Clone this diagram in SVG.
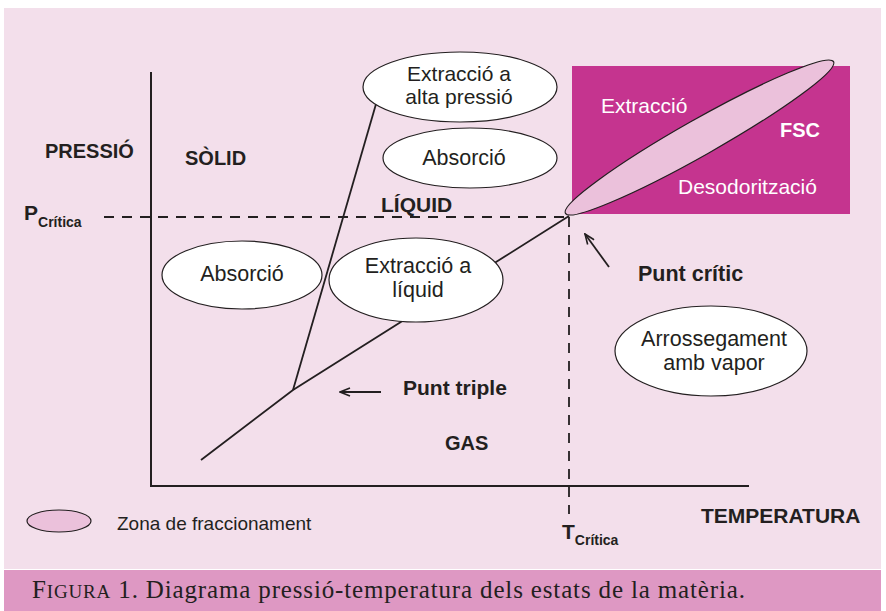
<svg xmlns="http://www.w3.org/2000/svg" width="886" height="611" viewBox="0 0 886 611">
<style>
.ln{stroke:#231f20;stroke-width:1.8;fill:none}
.ax{stroke:#231f20;stroke-width:2;fill:none}
.dash{stroke:#231f20;stroke-width:1.8;fill:none;stroke-dasharray:10 8}
.el{fill:#ffffff;stroke:#231f20;stroke-width:1.2}
.pk{fill:#ebc1db;stroke:#231f20;stroke-width:1.2}
.t{font-family:"Liberation Sans",Arial,sans-serif;font-size:21.5px;fill:#231f20;text-anchor:middle}
.b{font-family:"Liberation Sans",Arial,sans-serif;font-weight:bold;font-size:20px;fill:#231f20}
.w{font-family:"Liberation Sans",Arial,sans-serif;font-size:21px;fill:#ffffff}
.cap{font-family:"Liberation Serif","Times New Roman",serif;font-size:25px;fill:#231f20}
</style>
<defs>
<marker id="oa" viewBox="0 0 12 10" refX="11" refY="5" markerWidth="12" markerHeight="10" markerUnits="userSpaceOnUse" orient="auto">
<path d="M1,1 L11,5 L1,9" fill="none" stroke="#231f20" stroke-width="1.6"/>
</marker>
</defs>
<rect x="0" y="0" width="886" height="611" fill="#ffffff"/>
<rect x="4" y="8" width="877" height="561" fill="#f3dfeb"/>
<rect x="4" y="570" width="877" height="41" fill="#de98c3"/>

<g id="fsc-zone">
<rect x="572" y="66" width="278" height="148" fill="#c5348f"/>
</g>

<g id="connectors">
<line class="ax" x1="151" y1="72" x2="151" y2="486"/>
<line class="ax" x1="150" y1="486" x2="749" y2="486"/>
<line class="dash" x1="104" y1="217" x2="568" y2="217"/>
<line class="dash" x1="569" y1="217" x2="569" y2="514"/>
<polyline class="ln" points="201,460 293,390 569,216"/>
<line class="ln" x1="293" y1="390" x2="376" y2="104"/>
<line class="ln" x1="381" y1="392" x2="340" y2="392" marker-end="url(#oa)"/>
<line class="ln" x1="609" y1="267" x2="585" y2="234" marker-end="url(#oa)"/>
</g>

<g id="fraccionament">
<ellipse class="pk" cx="699.5" cy="137.5" rx="154" ry="18" transform="rotate(-29.5 699.5 137.5)"/>
<text class="w" x="601" y="113">Extracció</text>
<text class="w" x="780" y="137" style="font-weight:bold;font-size:20px">FSC</text>
<text class="w" x="678" y="194">Desodorització</text>
</g>

<g id="extraccio-alta">
<ellipse class="el" cx="460" cy="87" rx="97" ry="35"/>
<text class="t" x="459" y="81" style="font-size:21px">Extracció a</text>
<text class="t" x="459" y="104" style="font-size:21px">alta pressió</text>
</g>

<g id="absorcio-liquid">
<ellipse class="el" cx="470" cy="158" rx="87" ry="30"/>
<text class="t" x="464" y="165">Absorció</text>
</g>

<g id="absorcio-solid">
<ellipse class="el" cx="242" cy="275" rx="80" ry="34"/>
<text class="t" x="242" y="281">Absorció</text>
</g>

<g id="extraccio-liquid">
<ellipse class="el" cx="416" cy="280" rx="87" ry="42"/>
<text class="t" x="418" y="273">Extracció a</text>
<text class="t" x="418" y="297">líquid</text>
</g>

<g id="arrossegament">
<ellipse class="el" cx="711" cy="351" rx="96" ry="45"/>
<text class="t" x="714" y="346">Arrossegament</text>
<text class="t" x="714" y="370">amb vapor</text>
</g>

<g id="labels">
<text class="b" x="45" y="158">PRESSIÓ</text>
<text class="b" x="185" y="165">SÒLID</text>
<text class="b" x="381" y="212" style="font-size:21px">LÍQUID</text>
<text class="b" x="403" y="395" style="font-size:21px">Punt triple</text>
<text class="b" x="638" y="281" style="font-size:21.5px">Punt crític</text>
<text class="b" x="445" y="450">GAS</text>
<text class="b" x="24" y="220" style="font-size:21px">P<tspan style="font-size:14px" dy="7">Crítica</tspan></text>
<text class="b" x="562" y="539" style="font-size:21px">T<tspan style="font-size:14px" dy="6">Crítica</tspan></text>
<text class="b" x="701" y="523" style="font-size:21px">TEMPERATURA</text>
</g>

<g id="legend">
<ellipse class="pk" cx="59" cy="521" rx="32" ry="11"/>
<text class="t" x="117" y="530" style="text-anchor:start;font-size:19px">Zona de fraccionament</text>
</g>

<g id="caption">
<text class="cap" x="32" y="598" textLength="713" lengthAdjust="spacing">F<tspan style="font-size:19px">IGURA</tspan> 1.  Diagrama pressió-temperatura dels estats de la matèria.</text>
</g>
</svg>
